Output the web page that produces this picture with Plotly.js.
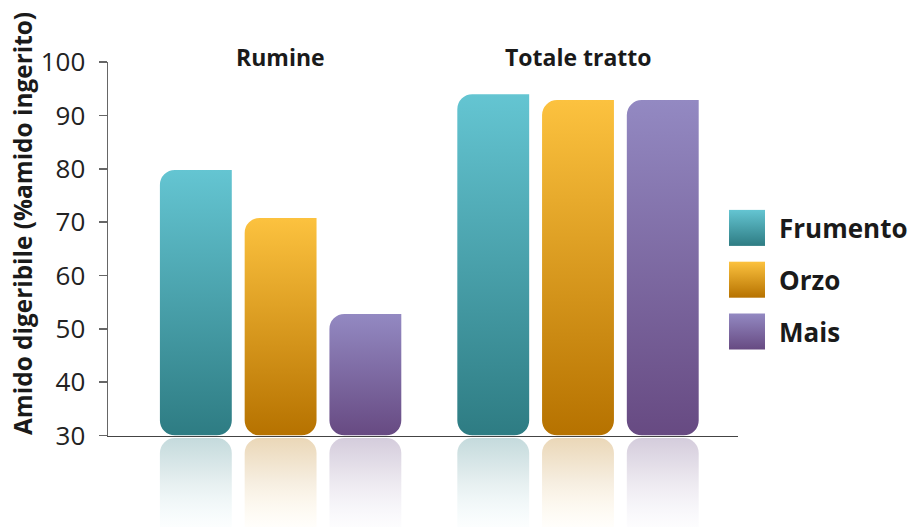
<!DOCTYPE html>
<html>
<head>
<meta charset="utf-8">
<script src="https://cdn.plot.ly/plotly-3.0.1.min.js"></script>
<style>
html,body{margin:0;padding:0;background:#fff;}
#chart{width:910px;height:527px;}
</style>
</head>
<body>
<div id="chart"></div>
<script>
// ---- data ----
const categories = ['Rumine', 'Totale tratto'];
const seriesNames = ['Frumento', 'Orzo', 'Mais'];
const frumento = [79.8, 94.0];
const orzo = [70.8, 92.9];
const mais = [52.8, 92.9];
const yTickVals = [30, 40, 50, 60, 70, 80, 90, 100];
const yTitle = 'Amido digeribile (%amido ingerito)';

// ---- styles ----
const seriesValues = [frumento, orzo, mais];
const gradTop = ['#64c5d2', '#fcc23f', '#9389c2'];
const gradBottom = ['#2e7c83', '#b67200', '#674a82'];
const flatColors = ['#49a3ad', '#dc9c1f', '#7d68a2'];
const AXIS_MIN = 30, AXIS_MAX = 100;

const traces = [];
seriesNames.forEach((name, i) => {
  traces.push({
    type: 'bar', name: name, x: categories, y: seriesValues[i],
    xaxis: 'x', yaxis: 'y',
    marker: {color: flatColors[i], line: {width: 0}},
    legendgroup: 'g' + i, hoverinfo: 'skip'
  });
});
seriesNames.forEach((name, i) => {
  traces.push({
    type: 'bar', name: name, x: categories, y: seriesValues[i],
    xaxis: 'x', yaxis: 'y2', showlegend: false, legendgroup: 'g' + i,
    marker: {color: flatColors[i], opacity: 0.25, line: {width: 0}},
    hoverinfo: 'skip'
  });
});

const H = 527;
const pxToPaperY = p => (H - p) / H;
const fontReg = 'Open Sans, sans-serif';

const layout = {
  width: 910, height: 527,
  margin: {l: 108, r: 172, t: 0, b: 0, autoexpand: false},
  paper_bgcolor: '#fff', plot_bgcolor: 'rgba(0,0,0,0)',
  barmode: 'group', bargap: 0.145, bargroupgap: 0.152,
  showlegend: true,
  legend: {
    x: (724 - 108) / 630, xanchor: 'left', y: pxToPaperY(280), yanchor: 'middle',
    font: {family: fontReg, size: 26, color: '#1a1a1a', weight: 700},
    tracegroupgap: 15, bgcolor: 'rgba(0,0,0,0)', traceorder: 'grouped',
    itemwidth: 45
  },
  xaxis: {
    type: 'category', range: [-0.5804, 1.538], anchor: 'y',
    showline: true, linecolor: '#444', linewidth: 1.5,
    showticklabels: false, ticks: '', showgrid: false, zeroline: false,
    fixedrange: true
  },
  yaxis: {
    domain: [pxToPaperY(435.5), pxToPaperY(62.2)],
    range: [AXIS_MIN, AXIS_MAX], anchor: 'x',
    tickvals: yTickVals, ticks: 'outside', ticklen: 8, tickwidth: 1.5, tickcolor: '#666',
    showline: true, linecolor: '#666', linewidth: 1.5,
    showgrid: false, zeroline: false, ticklabelstandoff: 8,
    tickfont: {family: fontReg, size: 26, color: '#222'}
  },
  yaxis2: {
    domain: [0, pxToPaperY(438)],
    range: [AXIS_MIN + 89 / 5.333, AXIS_MIN], anchor: 'x',
    showline: false, showticklabels: false, ticks: '', showgrid: false, zeroline: false
  },
  annotations: [
    {text: yTitle, xref: 'paper', yref: 'paper', x: (22 - 108) / 630, y: pxToPaperY(224),
     xanchor: 'center', yanchor: 'middle', textangle: -90, showarrow: false,
     font: {family: fontReg, size: 24.4, color: '#1a1a1a', weight: 700}},
    ...categories.map(c => ({
      text: c, xref: 'x', yref: 'paper', x: c, y: pxToPaperY(57),
      xanchor: 'center', yanchor: 'middle', showarrow: false,
      font: {family: fontReg, size: 23, color: '#1a1a1a', weight: 700}
    }))
  ]
};

const SVGNS = 'http://www.w3.org/2000/svg';
function addGradients(gd) {
  const defs = gd.querySelector('.main-svg defs');
  seriesNames.forEach((n, i) => {
    const g = document.createElementNS(SVGNS, 'linearGradient');
    g.setAttribute('id', 'grad' + i);
    g.setAttribute('x1', '0'); g.setAttribute('y1', '0');
    g.setAttribute('x2', '0'); g.setAttribute('y2', '1');
    g.innerHTML = '<stop offset="0" stop-color="' + gradTop[i] + '"/>' +
                  '<stop offset="1" stop-color="' + gradBottom[i] + '"/>';
    defs.appendChild(g);
    const r = document.createElementNS(SVGNS, 'linearGradient');
    r.setAttribute('id', 'refl' + i);
    r.setAttribute('x1', '0'); r.setAttribute('y1', '0');
    r.setAttribute('x2', '0'); r.setAttribute('y2', '1');
    r.innerHTML = '<stop offset="0" stop-color="' + gradBottom[i] + '" stop-opacity="0.28"/>' +
                  '<stop offset="0.5" stop-color="' + gradBottom[i] + '" stop-opacity="0.12"/>' +
                  '<stop offset="1" stop-color="' + gradTop[i] + '" stop-opacity="0.02"/>';
    defs.appendChild(r);
  });
}

function restyleBars(gd) {
  const fl = gd._fullLayout;
  const mainLen = fl.yaxis._length;
  const reflLen = fl.yaxis2._length;
  const R = 15;
  gd.querySelectorAll('.barlayer .trace.bars').forEach(tg => {
    const cd = tg.__data__;
    if (!cd || !cd[0] || !cd[0].trace) return;
    const tr = cd[0].trace;
    const idx = tr.index;
    const s = idx % 3;
    const isRefl = idx >= 3;
    tg.querySelectorAll('path').forEach(p => {
      const d = p.getAttribute('d');
      if (!d) return;
      const nums = d.match(/-?\d+(\.\d+)?(e-?\d+)?/g).map(Number);
      if (nums.length < 4) return;
      const x0 = nums[0], y0 = nums[1], y1 = nums[2], x1 = nums[3];
      const L = Math.min(x0, x1), Rt = Math.max(x0, x1);
      let T = Math.min(y0, y1), B = Math.max(y0, y1);
      let nd;
      if (!isRefl) {
        B = Math.min(B, mainLen);
        nd = 'M' + L + ',' + (T + R) + 'A' + R + ',' + R + ' 0 0 1 ' + (L + R) + ',' + T +
             'H' + Rt + 'V' + (B - R) + 'A' + R + ',' + R + ' 0 0 1 ' + (Rt - R) + ',' + B +
             'H' + (L + R) + 'A' + R + ',' + R + ' 0 0 1 ' + L + ',' + (B - R) + 'Z';
        p.style.fill = 'url(#grad' + s + ')';
      } else {
        T = Math.max(T, 0);
        B = Math.min(B, reflLen);
        nd = 'M' + L + ',' + (T + R) + 'A' + R + ',' + R + ' 0 0 1 ' + (L + R) + ',' + T +
             'H' + (Rt - R) + 'A' + R + ',' + R + ' 0 0 1 ' + Rt + ',' + (T + R) +
             'V' + B + 'H' + L + 'Z';
        p.style.fill = 'url(#refl' + s + ')';
        p.style.opacity = 1;
        p.style.fillOpacity = 1;
      }
      p.setAttribute('d', nd);
    });
  });
  // legend symbols
  gd.querySelectorAll('.legend .traces').forEach(tg => {
    const dd = tg.__data__;
    let tr = null;
    if (dd && dd[0]) tr = dd[0].trace || (dd[0][0] && dd[0][0].trace);
    if (!tr) return;
    const s = tr.index % 3;
    tg.querySelectorAll('.legendpoints path').forEach(p => p.style.display = 'none');
    const txt = tg.querySelector('text.legendtext');
    let tx = 55;
    try { tx = txt.getBBox().x; } catch (e) {}
    const rect = document.createElementNS(SVGNS, 'rect');
    rect.setAttribute('x', tx - 14 - 36);
    rect.setAttribute('y', -18);
    rect.setAttribute('width', 36);
    rect.setAttribute('height', 36);
    rect.setAttribute('fill', 'url(#grad' + s + ')');
    tg.appendChild(rect);
  });
}

const gd = document.getElementById('chart');
Plotly.newPlot(gd, traces, layout, {staticPlot: true, displayModeBar: false}).then(() => {
  addGradients(gd);
  restyleBars(gd);
});
</script>
</body>
</html>
